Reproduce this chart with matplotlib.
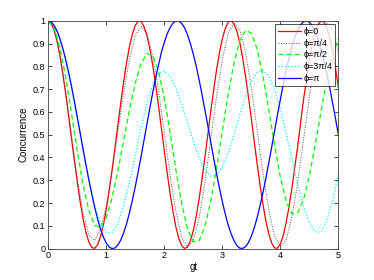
import numpy as np
import matplotlib
matplotlib.use("Agg")
import matplotlib.pyplot as plt

# gt axes: solid curves read every 0.05, broken-line curves every 0.1
gt_fine = [round(0.05 * i, 2) for i in range(101)]
gt = [round(0.1 * i, 1) for i in range(51)]

# concurrence values
c_phi0 = [1.000, 0.990, 0.961, 0.913, 0.848, 0.770, 0.681, 0.585, 0.485, 0.387,
          0.292, 0.206, 0.131, 0.071, 0.029, 0.005, 0.001, 0.017, 0.052, 0.104,
          0.173, 0.255, 0.346, 0.444, 0.543, 0.642, 0.734, 0.817, 0.887, 0.942,
          0.980, 0.998, 0.997, 0.974, 0.935, 0.877, 0.805, 0.719, 0.626, 0.527,
          0.427, 0.331, 0.240, 0.161, 0.094, 0.044, 0.013, 0.000, 0.008, 0.035,
          0.080, 0.143, 0.220, 0.307, 0.403, 0.502, 0.602, 0.697, 0.785, 0.860,
          0.922, 0.966, 0.994, 1.000, 0.986, 0.954, 0.904, 0.836, 0.755, 0.664,
          0.569, 0.467, 0.370, 0.276, 0.193, 0.120, 0.064, 0.024, 0.003, 0.002,
          0.021, 0.059, 0.116, 0.187, 0.269, 0.362, 0.453, 0.557, 0.658, 0.739,
          0.830, 0.899, 0.951, 0.984, 0.999, 0.994, 0.970, 0.926, 0.867, 0.790,
          0.704]
c_phi1 = [1.000, 0.961, 0.851, 0.688, 0.498, 0.310, 0.156, 0.060, 0.036, 0.083,
          0.189, 0.340, 0.514, 0.687, 0.834, 0.935, 0.975, 0.945, 0.846, 0.694,
          0.509, 0.322, 0.161, 0.049, 0.005, 0.036, 0.136, 0.291, 0.479, 0.668,
          0.831, 0.945, 0.990, 0.960, 0.860, 0.706, 0.519, 0.330, 0.168, 0.054,
          0.010, 0.040, 0.140, 0.294, 0.481, 0.670, 0.832, 0.946, 0.990, 0.960,
          0.860]
c_phi2 = [1.000, 0.970, 0.883, 0.753, 0.595, 0.430, 0.280, 0.166, 0.101, 0.094,
          0.137, 0.223, 0.340, 0.475, 0.610, 0.727, 0.813, 0.856, 0.848, 0.780,
          0.660, 0.508, 0.345, 0.197, 0.087, 0.030, 0.035, 0.098, 0.208, 0.355,
          0.517, 0.677, 0.815, 0.912, 0.958, 0.945, 0.875, 0.757, 0.609, 0.453,
          0.312, 0.206, 0.153, 0.158, 0.217, 0.321, 0.456, 0.603, 0.742, 0.853,
          0.923]
c_phi3 = [1.000, 0.979, 0.919, 0.824, 0.703, 0.567, 0.429, 0.299, 0.190, 0.111,
          0.070, 0.070, 0.111, 0.188, 0.291, 0.410, 0.530, 0.638, 0.721, 0.770,
          0.779, 0.755, 0.704, 0.634, 0.552, 0.470, 0.398, 0.345, 0.318, 0.322,
          0.357, 0.418, 0.498, 0.585, 0.667, 0.733, 0.774, 0.783, 0.757, 0.699,
          0.611, 0.505, 0.391, 0.280, 0.185, 0.113, 0.074, 0.072, 0.125, 0.210,
          0.330]
c_phi4 = [1.000, 0.995, 0.980, 0.956, 0.922, 0.880, 0.830, 0.774, 0.713, 0.647,
          0.578, 0.508, 0.437, 0.368, 0.301, 0.240, 0.181, 0.130, 0.086, 0.051,
          0.024, 0.007, 0.000, 0.003, 0.016, 0.038, 0.070, 0.110, 0.158, 0.213,
          0.273, 0.338, 0.405, 0.476, 0.546, 0.617, 0.684, 0.749, 0.806, 0.862,
          0.905, 0.943, 0.970, 0.990, 0.999, 0.998, 0.988, 0.968, 0.937, 0.899,
          0.852, 0.800, 0.740, 0.675, 0.608, 0.538, 0.467, 0.397, 0.329, 0.265,
          0.205, 0.151, 0.104, 0.065, 0.035, 0.013, 0.002, 0.001, 0.009, 0.027,
          0.055, 0.092, 0.137, 0.189, 0.247, 0.310, 0.377, 0.447, 0.517, 0.588,
          0.656, 0.722, 0.783, 0.838, 0.887, 0.928, 0.960, 0.983, 0.996, 1.000,
          0.993, 0.977, 0.951, 0.917, 0.873, 0.823, 0.766, 0.704, 0.637, 0.569,
          0.497]

labels = ['\u03d5=0', '\u03d5=\u03c0/4', '\u03d5=\u03c0/2', '\u03d5=3\u03c0/4', '\u03d5=\u03c0']

plt.rcParams['font.family'] = ['Liberation Sans', 'DejaVu Sans']

fig = plt.figure(figsize=(3.74, 2.8), dpi=100)
ax = fig.add_axes([0.129, 0.112, 0.776, 0.814])

kw = dict(solid_joinstyle='round', dash_joinstyle='round')
ax.plot(gt_fine, c_phi0, color='red', linestyle='-', linewidth=0.9, label=labels[0], **kw)
ax.plot(gt, c_phi1, color='#505050', linestyle=(0, (1, 1.6)), linewidth=0.7, label=labels[1], **kw)
ax.plot(gt, c_phi2, color='#00ff00', linestyle=(0, (4, 2.5)), linewidth=0.9, label=labels[2], **kw)
ax.plot(gt, c_phi3, color='cyan', linestyle=(0, (1, 1.6)), linewidth=0.9, label=labels[3], **kw)
ax.plot(gt_fine, c_phi4, color='blue', linestyle='-', linewidth=0.9, label=labels[4], **kw)

ax.set_xlim(0, 5)
ax.set_ylim(0, 1)
ax.set_xticks(range(6))
ax.set_yticks(np.arange(0, 1.01, 0.1))
ax.set_yticklabels(['0', '0.1', '0.2', '0.3', '0.4', '0.5', '0.6', '0.7', '0.8', '0.9', '1'])
ax.tick_params(direction='in', top=True, right=True, labelsize=6.5, length=3, width=0.5, pad=2)
for s in ax.spines.values():
    s.set_linewidth(0.6)
    s.set_color('#404040')

ax.set_xlabel('gt', fontsize=7, labelpad=1)
ax.set_ylabel('Concurrence', fontsize=7, labelpad=3)

leg = ax.legend(loc='upper right', fontsize=6.5, frameon=True, fancybox=False,
                handlelength=2.5, handletextpad=0.25, borderpad=0.35, labelspacing=0.3,
                borderaxespad=0.35)
leg.get_frame().set_edgecolor('black')
leg.get_frame().set_linewidth(0.6)

fig.savefig('out.png', dpi=100)
